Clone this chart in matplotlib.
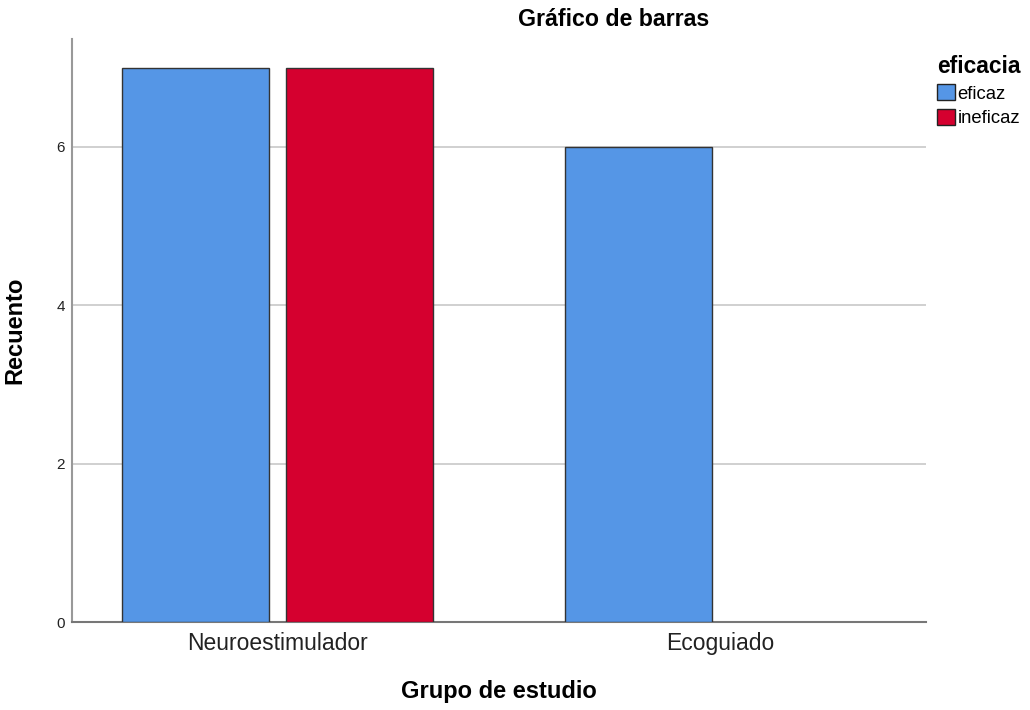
import matplotlib
matplotlib.use("Agg")
import matplotlib.pyplot as plt
from matplotlib.patches import Patch
import numpy as np

plt.rcParams['font.family'] = ['Liberation Sans', 'DejaVu Sans']

categories = ["Neuroestimulador", "Ecoguiado"]
series_names = ["eficaz", "ineficaz"]
eficaz = [7, 6]
ineficaz = [7, 0]
yticks = [0, 2, 4, 6]
colors = ["#5596E6", "#D5002F"]

fig = plt.figure(figsize=(10.3, 7.1), dpi=100)
ax = fig.add_axes([72/1030, 1-622/710, (926-72)/1030, (622-39)/710])

x = np.arange(len(categories))
w = 147/442
gap = 17/442
off = (w + gap) / 2
for vals, col, sign in [(eficaz, colors[0], -1), (ineficaz, colors[1], 1)]:
    for xi, v in zip(x, vals):
        if v > 0:
            ax.bar(xi + sign*off, v, width=w, color=col, edgecolor="#333333",
                   linewidth=1.0, zorder=3)

ax.set_xlim(-0.466, 1.466)
ax.set_ylim(0, 7.364)
ax.set_yticks(yticks)
ax.set_yticklabels([str(t) for t in yticks], fontsize=11, color="#222222")
ax.set_xticks(x)
ax.set_xticklabels(categories, fontsize=16.5, color="#222222")
ax.tick_params(axis='both', length=0)
ax.tick_params(axis='y', pad=5)
ax.tick_params(axis='x', pad=7)
ax.yaxis.grid(True, color="#c8c8c8", linewidth=1.2, zorder=0)
for s in ["top", "right"]:
    ax.spines[s].set_visible(False)
ax.spines["left"].set_color("#999999")
ax.spines["bottom"].set_color("#777777")
ax.spines["left"].set_linewidth(1.5)
ax.spines["bottom"].set_linewidth(1.5)

ax.set_ylabel("Recuento", fontsize=17, fontweight="bold", labelpad=22)
ax.set_xlabel("Grupo de estudio", fontsize=17, fontweight="bold", labelpad=18)
fig.text(614/1030, 1-20/710, "Gráfico de barras", fontsize=16.7, fontweight="bold",
         ha="center", va="center")

handles = [Patch(facecolor=c, edgecolor="#222222", label=n) for c, n in zip(colors, series_names)]
leg = fig.legend(handles=handles, loc="upper left", bbox_to_anchor=(924/1030, 1-42/710),
                 frameon=False, title="eficacia", fontsize=13.3,
                 title_fontproperties={"weight": "bold", "size": 16.4},
                 handlelength=0.97, handleheight=0.92, handletextpad=0.15,
                 labelspacing=0.35, borderpad=0.2, alignment="left")
fig.savefig("out.png", dpi=100)
